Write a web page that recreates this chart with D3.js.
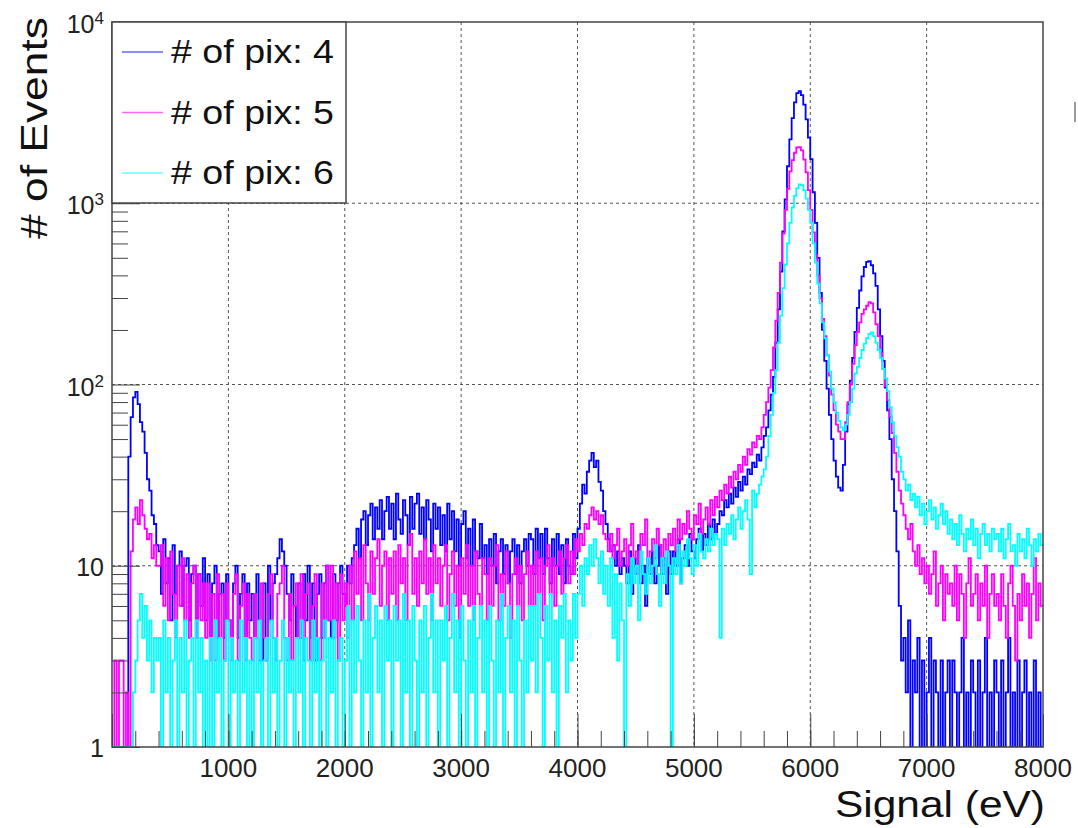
<!DOCTYPE html>
<html>
<head>
<meta charset="utf-8">
<script src="https://cdn.jsdelivr.net/npm/d3@7"></script>
<style>
  body { margin: 0; background: #fff; }
  svg { display: block; font-family: "Liberation Sans", Arial, sans-serif; }
</style>
</head>
<body>
<div id="chart"></div>
<script>
// histogram bins are 20 eV wide, starting at 0 eV
const binWidth = 20;
const seriesNames = ["# of pix: 4", "# of pix: 5", "# of pix: 6"];
const seriesColors = ["#0000ff", "#ff00ff", "#00ffff"];

// counts per bin (one row = 400 eV)
const pix4 = [
  0,0,0,0,0,0,0,40,66,85,91,78,62,55,42,30,26,19,17,13,
  12,7,14,8,11,5,13,7,10,12,6,10,11,5,9,10,4,9,6,11,
  5,9,4,8,10,4,7,8,4,9,5,4,8,10,4,7,9,4,8,5,
  7,4,9,5,3,8,4,10,5,8,9,11,14,12,10,7,5,9,6,4,
  8,4,9,5,10,4,8,3,7,9,4,8,10,5,4,9,5,8,10,7,
  6,10,8,11,13,16,11,18,20,13,19,22,14,21,16,23,14,20,24,16,
  22,14,25,18,15,23,19,13,24,16,22,25,15,21,14,23,18,12,22,16,
  21,13,19,12,22,14,20,12,18,10,17,20,11,16,10,18,12,11,17,11,
  13,9,14,10,15,8,12,14,9,13,8,12,14,9,13,8,12,14,10,15,
  14,9,16,11,15,9,16,11,8,14,10,15,9,13,8,14,10,9,15,11,
  16,22,28,25,33,38,42,35,38,29,26,20,17,14,12,13,10,12,9,11,
  10,8,12,7,11,9,13,8,10,6,11,9,12,8,10,13,9,11,7,12,
  9,12,10,14,8,11,13,10,15,12,11,14,16,12,15,13,17,14,18,15,
  17,20,19,23,21,25,22,27,24,29,26,31,28,34,32,37,35,41,38,45,
  52,58,72,88,110,170,260,420,700,1050,1600,2250,2950,3600,4050,4150,3950,3500,2900,2300,
  1750,1150,780,500,320,200,135,95,68,50,38,31,27,26,36,55,78,105,140,195,
  265,330,395,445,475,480,455,410,350,260,185,135,96,72,50,30,20,12,6,3,
  4,2,5,1,3,2,4,1,3,1,2,4,1,3,2,1,3,1,2,3,
  1,3,2,1,2,4,1,2,1,3,2,1,3,1,2,4,1,2,1,3,
  2,1,3,1,2,4,1,2,1,3,1,2,3,1,2,1,3,1,2,1
];

const pix5 = [
  0,3,0,3,3,0,2,0,12,18,21,17,23,19,16,14,15,11,13,10,
  10,13,6,11,5,12,7,4,10,6,11,5,9,4,8,10,4,9,5,8,
  4,8,3,7,3,9,4,7,3,8,5,3,7,9,3,6,8,3,7,4,
  3,7,4,3,8,4,3,7,9,4,3,7,8,10,4,3,7,3,6,8,
  4,9,3,7,8,3,6,9,4,3,8,4,10,5,10,4,8,3,9,5,
  8,4,10,5,12,7,11,5,13,8,5,12,7,11,14,6,10,12,5,11,
  7,12,5,13,8,11,5,13,15,7,11,6,12,8,14,7,11,5,13,8,
  11,6,10,13,5,9,12,6,10,4,11,7,13,6,10,5,12,7,6,11,
  9,5,11,6,10,13,5,9,6,12,8,4,9,11,6,10,5,9,12,6,
  10,6,12,7,11,5,10,13,7,11,6,10,12,7,11,13,8,12,9,14,
  12,15,13,17,16,19,21,18,20,17,19,15,14,12,15,11,13,16,10,12,
  14,10,13,17,11,12,9,15,13,18,10,12,14,11,16,13,10,14,12,15,
  13,16,12,18,14,17,15,20,16,14,19,17,22,15,18,21,17,23,19,24,
  21,26,23,28,25,31,27,33,30,36,33,40,36,44,41,48,45,52,50,58,
  68,80,96,120,160,225,320,470,680,920,1200,1500,1730,1900,2030,2040,1960,1740,1480,1180,
  920,690,520,400,300,230,185,145,112,88,72,60,55,50,50,62,80,100,130,165,
  195,220,245,260,272,285,280,250,215,185,150,122,98,82,66,54,42,33,26,22,
  19,16,14,17,12,10,13,9,11,8,10,7,9,12,6,8,10,5,9,7,
  8,6,10,5,9,7,4,8,11,6,7,9,5,8,6,10,4,7,9,6,
  7,5,9,6,4,8,10,6,3,7,5,9,6,8,4,7,11,5,8,6
];

const pix6 = [
  0,0,0,0,0,0,0,0,1,2,3,5,7,4,6,3,5,2,4,3,
  4,1,5,2,4,1,3,5,1,4,2,5,1,3,4,1,5,2,4,1,
  3,1,4,1,5,2,4,1,3,5,1,4,2,3,1,5,2,4,1,3,
  1,4,2,5,1,3,4,1,5,2,4,1,3,5,1,4,2,3,1,4,
  2,5,1,4,3,1,5,2,4,1,3,5,1,4,2,5,1,3,4,1,
  3,6,1,5,2,6,3,1,5,2,7,1,4,6,2,5,1,6,3,5,
  1,6,3,5,1,7,2,5,1,6,3,1,5,2,6,1,4,7,2,5,
  1,5,3,6,1,4,7,2,5,1,6,3,1,5,2,6,1,4,6,2,
  5,1,6,3,1,5,2,7,1,4,6,2,5,1,6,3,1,5,2,6,
  3,6,2,7,4,1,6,3,7,2,5,1,6,4,7,2,5,3,7,4,
  7,10,6,11,9,13,10,14,11,8,12,7,10,6,11,4,9,3,8,5,
  0,9,6,11,8,10,5,12,9,7,11,8,10,13,9,6,11,8,12,10,
  0,11,9,13,8,12,10,14,11,9,13,10,15,12,11,14,12,16,13,15,
  14,4,16,13,17,15,19,14,18,21,16,20,23,18,9,26,21,25,28,31,
  34,40,52,68,90,120,170,240,340,460,600,780,950,1100,1210,1270,1260,1180,1060,920,
  780,600,470,360,280,220,180,145,118,95,80,70,63,58,56,60,68,80,95,115,
  125,140,155,168,180,190,194,185,170,155,140,122,108,92,75,62,52,45,40,33,
  30,26,28,23,25,21,24,19,22,17,20,23,18,21,16,19,22,17,20,15,
  18,14,17,13,19,15,12,16,14,18,13,16,11,15,17,13,15,12,16,14,
  15,12,16,11,14,17,12,13,10,15,12,14,11,16,13,10,14,12,15,13
];

const xTickLabels = [1000, 2000, 3000, 4000, 5000, 6000, 7000, 8000];
const yTickValues = [1, 10, 100, 1000, 10000];

const W = 1078, H = 828;
const plot = { left: 112, right: 1043, top: 22, bottom: 747 };

const svg = d3.select("#chart").append("svg")
  .attr("width", W).attr("height", H);

svg.append("rect").attr("width", W).attr("height", H).attr("fill", "#fff");

const x = d3.scaleLinear().domain([0, 8000]).range([plot.left, plot.right]);
const y = d3.scaleLog().domain([1, 10000]).range([plot.bottom, plot.top]);

// grid
const grid = svg.append("g").attr("stroke", "#555").attr("stroke-dasharray", "3,3").attr("stroke-width", 1);
grid.selectAll(".gx").data(xTickLabels.slice(0, -1)).enter().append("line")
  .attr("x1", d => x(d)).attr("x2", d => x(d))
  .attr("y1", plot.top).attr("y2", plot.bottom);
grid.selectAll(".gy").data(yTickValues.slice(1, -1)).enter().append("line")
  .attr("x1", plot.left).attr("x2", plot.right)
  .attr("y1", d => y(d)).attr("y2", d => y(d));

// histograms
svg.append("clipPath").attr("id", "clip").append("rect")
  .attr("x", plot.left).attr("y", plot.top)
  .attr("width", plot.right - plot.left).attr("height", plot.bottom - plot.top);

const line = d3.line()
  .curve(d3.curveStepAfter)
  .x(d => x(d.e))
  .y(d => y(Math.max(d.v, 1)));

const histG = svg.append("g").attr("clip-path", "url(#clip)");
[pix4, pix5, pix6].forEach((vals, k) => {
  const pts = vals.map((v, i) => ({ e: i * binWidth, v: v }));
  pts.push({ e: vals.length * binWidth, v: vals[vals.length - 1] });
  histG.append("path")
    .attr("d", line(pts))
    .attr("fill", "none")
    .attr("stroke", seriesColors[k])
    .attr("stroke-width", 1.8);
});

// axes: ticks point inwards, ROOT style
const xMajor = d3.axisBottom(x).tickValues(d3.range(0, 8001, 1000))
  .tickSizeInner(-33).tickSizeOuter(0).tickFormat("");
const xMinor = d3.axisBottom(x).tickValues(d3.range(0, 8001, 200))
  .tickSizeInner(-16).tickSizeOuter(0).tickFormat("");
[xMajor, xMinor].forEach(a => {
  svg.append("g").attr("transform", `translate(0,${plot.bottom})`).call(a)
    .call(g => g.select(".domain").remove())
    .selectAll("line").attr("stroke", "#444");
});

const minorY = [];
[1, 10, 100, 1000].forEach(dec => { for (let m = 2; m <= 9; m++) minorY.push(dec * m); });
const yMajor = d3.axisLeft(y).tickValues(yTickValues).tickSizeInner(-28).tickSizeOuter(0).tickFormat("");
const yMinor = d3.axisLeft(y).tickValues(minorY).tickSizeInner(-16).tickSizeOuter(0).tickFormat("");
[yMajor, yMinor].forEach(a => {
  svg.append("g").attr("transform", `translate(${plot.left},0)`).call(a)
    .call(g => g.select(".domain").remove())
    .selectAll("line").attr("stroke", "#444");
});

// frame
svg.append("rect")
  .attr("x", plot.left).attr("y", plot.top)
  .attr("width", plot.right - plot.left).attr("height", plot.bottom - plot.top)
  .attr("fill", "none").attr("stroke", "#444").attr("stroke-width", 1.5);

// x tick labels
svg.append("g").selectAll("text").data(xTickLabels).enter().append("text")
  .attr("x", d => x(d)).attr("y", plot.bottom + 30)
  .attr("text-anchor", "middle").attr("font-size", 26).attr("fill", "#222")
  .text(d => d);

// y tick labels: 1, 10, then 10^n
const yl = svg.append("g").attr("fill", "#222");
yTickValues.forEach(v => {
  const n = Math.round(Math.log10(v));
  if (n < 2) {
    yl.append("text").attr("x", 104).attr("y", y(v) + 10)
      .attr("text-anchor", "end").attr("font-size", 25).text(v);
  } else {
    const t = yl.append("text").attr("x", 104).attr("y", y(v) + 11)
      .attr("text-anchor", "end").attr("font-size", 25);
    t.append("tspan").text("10");
    t.append("tspan").attr("font-size", 17).attr("dy", -9).text(n);
  }
});

// axis titles
svg.append("text")
  .attr("x", 1045).attr("y", 817)
  .attr("text-anchor", "end").attr("font-size", 36).attr("fill", "#111")
  .attr("textLength", 210).attr("lengthAdjust", "spacingAndGlyphs")
  .text("Signal (eV)");

svg.append("text")
  .attr("transform", "translate(47,17) rotate(-90)")
  .attr("text-anchor", "end").attr("font-size", 36).attr("fill", "#111")
  .attr("textLength", 222).attr("lengthAdjust", "spacingAndGlyphs")
  .text("# of Events");

// legend
const leg = svg.append("g");
leg.append("rect")
  .attr("x", plot.left).attr("y", plot.top)
  .attr("width", 234).attr("height", 181)
  .attr("fill", "#fff").attr("stroke", "#444").attr("stroke-width", 1.5);
seriesNames.forEach((name, k) => {
  const cy = 52 + k * 60.5;
  leg.append("line")
    .attr("x1", 122).attr("x2", 163).attr("y1", cy).attr("y2", cy)
    .attr("stroke", seriesColors[k]).attr("stroke-width", 1.5).attr("opacity", 0.6);
  leg.append("text")
    .attr("x", 171).attr("y", cy + 11)
    .attr("font-size", 33).attr("fill", "#111")
    .attr("textLength", 163).attr("lengthAdjust", "spacingAndGlyphs")
    .text(name);
});

// small grey mark at the right edge of the picture
svg.append("rect").attr("x", 1074).attr("y", 102).attr("width", 2).attr("height", 20).attr("fill", "#999");
</script>
</body>
</html>
